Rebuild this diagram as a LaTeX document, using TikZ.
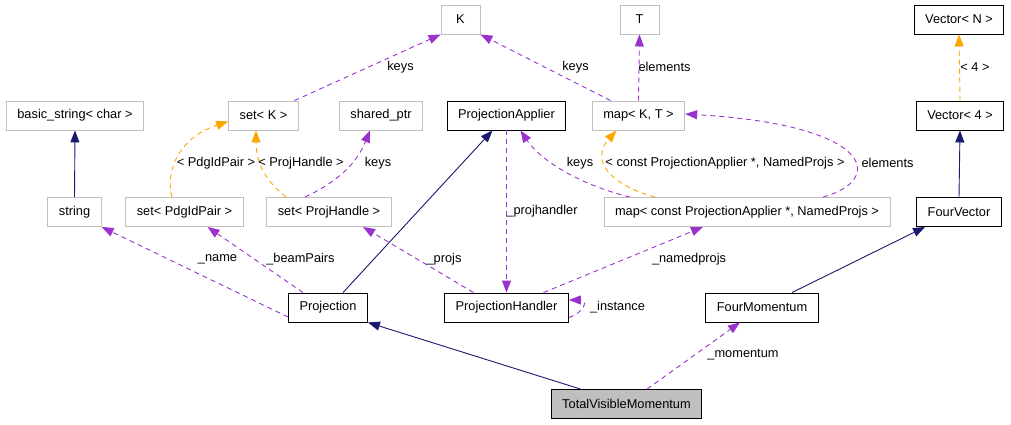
\documentclass[tikz,border=0pt]{standalone}
\usepackage{fontspec}
\setmainfont{Liberation Sans}
\usetikzlibrary{arrows.meta}
\definecolor{inhcol}{HTML}{191970}
\definecolor{usecol}{HTML}{9A32CD}
\definecolor{tplcol}{HTML}{FFA500}
\definecolor{boxcol}{HTML}{BFBFBF}
\tikzset{>={Triangle[width=9pt,length=12pt]}}
\tikzset{
  cls/.style={draw=boxcol, line width=0.9pt, fill=white, minimum height=29pt,
    inner xsep=11pt, inner ysep=0pt},
  doc/.style={cls, draw=black},
  inh/.style={->, draw=inhcol, line width=0.9pt},
  use/.style={->, draw=usecol, line width=0.9pt, dash pattern=on 5pt off 4pt},
  tpl/.style={->, draw=tplcol, line width=0.9pt, dash pattern=on 5pt off 4pt},
  lbl/.style={inner sep=0pt}
}

\begin{document}
\begin{tikzpicture}[x=1pt, y=-1pt]
  \fontsize{12.8}{15}\selectfont
  \useasboundingbox (0,0) rectangle (1011,424);

  % classes
  \node[cls] (bstr) at (75,115.5) {basic\_string< char >};
  \node[cls] (setK) at (263.5,115.5) {set< K >};
  \node[cls, minimum width=39pt] (K) at (460.5,19.5) {K};
  \node[cls, minimum width=39pt] (T) at (639.5,19.5) {T};
  \node[cls] (sptr) at (381,115.5) {shared\_ptr};
  \node[doc] (papp) at (506.5,115.5) {ProjectionApplier};
  \node[cls] (mapKT) at (638.5,115.5) {map< K, T >};
  \node[doc] (vecN) at (959,19.5) {Vector< N >};
  \node[doc] (vec4) at (960,115.5) {Vector< 4 >};
  \node[cls] (str) at (74.5,212) {string};
  \node[cls] (setPdg) at (184.5,212) {set< PdgIdPair >};
  \node[cls] (setPH) at (329,212) {set< ProjHandle >};
  \node[cls] (mapC) at (747,212) {map< const ProjectionApplier *, NamedProjs >};
  \node[doc] (fvec) at (959,212) {FourVector};
  \node[doc] (proj) at (328,307.5) {Projection};
  \node[doc] (phand) at (506.5,307.5) {ProjectionHandler};
  \node[doc] (fmom) at (762,307.5) {FourMomentum};
  \node[doc, fill=boxcol] (tvm) at (626.5,404) {TotalVisibleMomentum};

  % inheritance
  \draw[inh] (str.north) -- (bstr.south); % string->basic_string
  \draw[inh] ([xshift=15pt]proj.north) -- ([xshift=-14pt]papp.south);
  \draw[inh] (fvec.north) -- (vec4.south);
  \draw[inh] ([xshift=30pt]fmom.north) -- ([xshift=-34pt]fvec.south);
  \draw[inh] ([xshift=-46pt]tvm.north) -- (proj.south east);

  % templates
  \draw[tpl] ([xshift=-12.5pt]setPdg.north) .. controls (165,172) and (178,138) ..
    ([yshift=-6pt]setK.west); % set<PdgIdPair>->set<K>
  \draw[tpl] ([xshift=-43pt]setPH.north) .. controls (268,183) and (256,165) ..
    ([xshift=-7.5pt]setK.south); % set<ProjHandle>->set<K>
  \draw[tpl] ([xshift=-92pt]mapC.north) .. controls (610,185) and (590,160) ..
    ([xshift=-22pt]mapKT.south);
  \draw[tpl] (vec4.north) -- (vecN.south);

  % members
  \draw[use] ([xshift=31pt]setK.north) -- (K.south west); % keys
  \draw[use] ([xshift=-28pt]mapKT.north) -- (K.south east);
  \draw[use] (mapKT.north) -- (T.south);
  \draw[use] ([xshift=-24pt]setPH.north) .. controls (352,175) and (362,150) ..
    ([xshift=-11pt]sptr.south);
  \draw[use] (papp.south) -- (phand.north);
  \draw[use] ([xshift=-117pt]mapC.north) .. controls (580,185) and (540,160) ..
    ([xshift=14pt]papp.south);
  \draw[use] ([xshift=76pt]mapC.north) .. controls (885,180) and (875,125) ..
    ([yshift=1.5pt]mapKT.east);
  \draw[use] ([yshift=-9.5pt]proj.west) -- (str.south east);
  \draw[use] ([xshift=-25pt]proj.north) -- ([xshift=23pt]setPdg.south);
  \draw[use] ([xshift=-33pt]phand.north) -- ([xshift=34pt]setPH.south);
  \draw[use] ([xshift=37pt]phand.north) -- ([xshift=-44pt]mapC.south);
  \draw[use] ([yshift=-10pt]phand.east) .. controls (585,312) and (588,300) ..
    ([yshift=7.5pt]phand.east); % _instance
  \draw[use] ([xshift=20.5pt]tvm.north) -- ([xshift=-22pt]fmom.south);

  % labels
  \node[lbl] (lpdg) at (216,163) {< PdgIdPair >};
  \node[lbl] (lph) at (301,163) {< ProjHandle >};
  \node[lbl] (lk1) at (400.5,67) {keys};
  \node[lbl] (lk2) at (575.5,67) {keys};
  \node[lbl] (lel1) at (664.5,67) {elements};
  \node[lbl] (lk3) at (378,163) {keys};
  \node[lbl] (lk4) at (580,163) {keys};
  \node[lbl] (lcon) at (725,163) {< const ProjectionApplier *, NamedProjs >};
  \node[lbl] (lel2) at (887.5,163) {elements};
  \node[lbl] (lfour) at (975,67) {< 4 >};
  \node[lbl] (lph2) at (542,211) {\_projhandler};
  \node[lbl] (lname) at (217.5,259) {\_name};
  \node[lbl] (lbeam) at (300.5,259) {\_beamPairs};
  \node[lbl] (lprojs) at (444,259) {\_projs};
  \node[lbl] (lnamed) at (689,259) {\_namedprojs};
  \node[lbl] (linst) at (617.5,307.5) {\_instance};
  \node[lbl] (lmom) at (743,355) {\_momentum};
\end{tikzpicture}
\end{document}
